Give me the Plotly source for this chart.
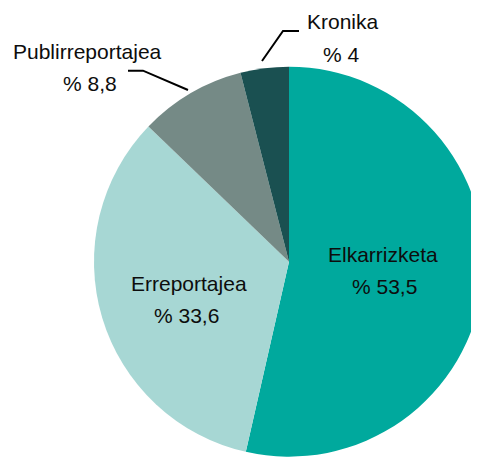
import plotly.graph_objects as go

# Data
labels = ["Elkarrizketa", "Erreportajea", "Publirreportajea", "Kronika"]
values = [53.5, 33.6, 8.8, 4.0]
colors = ["#00A99D", "#A7D7D4", "#758A86", "#1A5051"]

W, H = 479, 457
OFF = 8  # page body margin offset

def fmt(v):
    s = ("%.1f" % v).rstrip("0").rstrip(".")
    return "% " + s.replace(".", ",")

def X(px):
    return (px - OFF) / W

def Y(py):
    return 1 - (py - OFF) / H

cx, cy, r = 289, 261.7, 195

fig = go.Figure()
fig.add_trace(go.Pie(
    labels=labels,
    values=values,
    marker=dict(colors=colors, line=dict(width=0)),
    sort=False,
    direction="clockwise",
    rotation=0,
    textinfo="none",
    hoverinfo="label+percent",
    showlegend=False,
    domain=dict(x=[X(cx - r), X(cx + r)], y=[Y(cy + r), Y(cy - r)]),
))

# label positions in screen pixels (center x, cap-center y for each line)
label_pos = [
    (383, 254, 384, 286),
    (188.5, 283, 186.5, 315),
    (87.5, 52, 90, 84),
    (343, 22, 341, 54),
]

font = dict(family="Liberation Sans, Arial, sans-serif", size=21, color="#0d0d0d")
for lab, val, (x1, y1, x2, y2) in zip(labels, values, label_pos):
    fig.add_annotation(x=X(x1), y=Y(y1), xref="paper", yref="paper",
                       text=lab, showarrow=False, xanchor="center", yanchor="middle", font=font)
    fig.add_annotation(x=X(x2), y=Y(y2), xref="paper", yref="paper",
                       text=fmt(val), showarrow=False, xanchor="center", yanchor="middle", font=font)

def px_path(pts):
    return "M " + " L ".join("%f,%f" % (X(x), Y(y)) for x, y in pts)

leaders = [
    [(128, 70.7), (143, 70.7), (188, 90)],
    [(262, 61), (283, 31), (299, 31)],
]
for pts in leaders:
    fig.add_shape(type="path", path=px_path(pts), xref="paper", yref="paper",
                  line=dict(color="#000000", width=2))

fig.update_layout(
    width=W, height=H,
    margin=dict(l=0, r=0, t=0, b=0),
    paper_bgcolor="white",
    plot_bgcolor="white",
)

fig.write_html("out.html")
